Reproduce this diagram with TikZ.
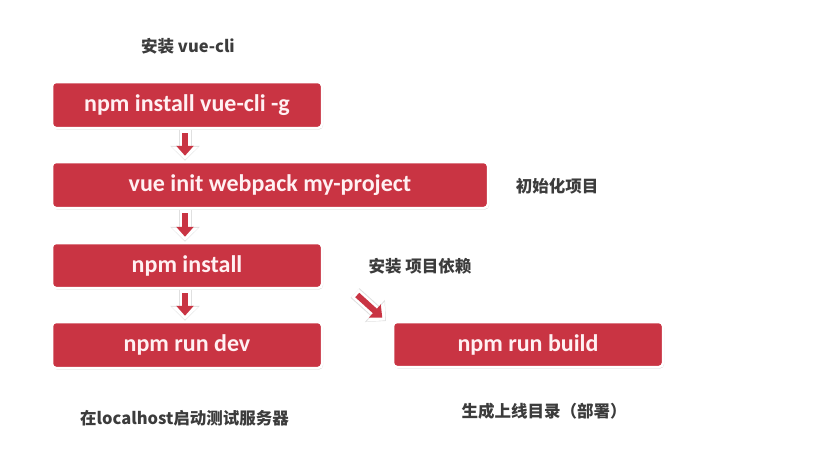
\documentclass[tikz,border=0pt]{standalone}
\usepackage{fontspec}
\setmainfont{Carlito}
\newfontfamily\cjk{Noto Sans CJK SC}
\usetikzlibrary{shadows,arrows.meta,calc}
\definecolor{boxred}{RGB}{201,52,67}
\definecolor{boxtext}{RGB}{255,240,242}
\definecolor{labelgray}{RGB}{60,60,60}
\tikzset{
  cmdbox/.style={rectangle, rounded corners=4pt, fill=boxred, draw=white, line width=2.5pt,
    drop shadow={shadow xshift=1pt, shadow yshift=-1.5pt, opacity=0.28},
    text=boxtext, font=\fontsize{24}{28}\selectfont\bfseries, inner sep=0pt},
  lbl/.style={text=labelgray, font=\cjk\fontsize{16.5}{20}\selectfont\bfseries, inner sep=0pt},
  arrowshadow/.style={line width=13pt, black!12, -{Triangle[length=15pt,width=29pt]}},
  arrowwhite/.style={line width=11pt, white, -{Triangle[length=13pt,width=26pt]}, shorten >=1pt},
  arrowred/.style={line width=6pt, boxred, -{Triangle[length=10pt,width=17pt]}, shorten <=3pt, shorten >=5pt}
}
\newcommand{\blockarrow}[2]{%
  \draw[arrowshadow] #1 -- #2;
  \draw[arrowwhite] #1 -- #2;
  \draw[arrowred] #1 -- #2;}
\begin{document}
\begin{tikzpicture}[x=1pt,y=-1pt]
\useasboundingbox (0,0) rectangle (831,455);
\fill[white] (0,0) rectangle (831,455);

\node[cmdbox, minimum width=270pt, minimum height=46pt] (b1) at (187,105) {npm install vue-cli -g};
\node[cmdbox, minimum width=436pt, minimum height=46pt] (b2) at (270,185) {vue init webpack my-project};
\node[cmdbox, minimum width=270pt, minimum height=45pt] (b3) at (187,265.5) {npm install};
\node[cmdbox, minimum width=270pt, minimum height=46pt] (b4) at (187,345) {npm run dev};
\node[cmdbox, minimum width=270pt, minimum height=45pt] (b5) at (528,344.5) {npm run build};

\node[lbl] (l1) at (188,46) {安装 vue-cli};
\node[lbl] (l2) at (557,186) {初始化项目};
\node[lbl] (l3) at (420,266) {安装 项目依赖};
\node[lbl, anchor=west] (l4) at (80,418) {在localhost启动测试服务器};
\node[lbl] (l5) at (544,411) {生成上线目录（部署）};

\coordinate (a1s) at ($(b1.south)+(-2,1)$);
\coordinate (a1e) at ($(b1.south |- b2.north)+(-2,0)$);
\coordinate (a2s) at ($(b3.north |- b2.south)+(-2,1)$);
\coordinate (a2e) at ($(b3.north)+(-2,0)$);
\coordinate (a3s) at ($(b3.south)+(-2,1)$);
\coordinate (a3e) at ($(b4.north)+(-2,0)$);
\coordinate (d1) at (355,293);
\coordinate (d2) at (386,321);

\blockarrow{(a1s)}{(a1e)}
\blockarrow{(a2s)}{(a2e)}
\blockarrow{(a3s)}{(a3e)}
\blockarrow{(d1)}{(d2)}
\end{tikzpicture}
\end{document}
